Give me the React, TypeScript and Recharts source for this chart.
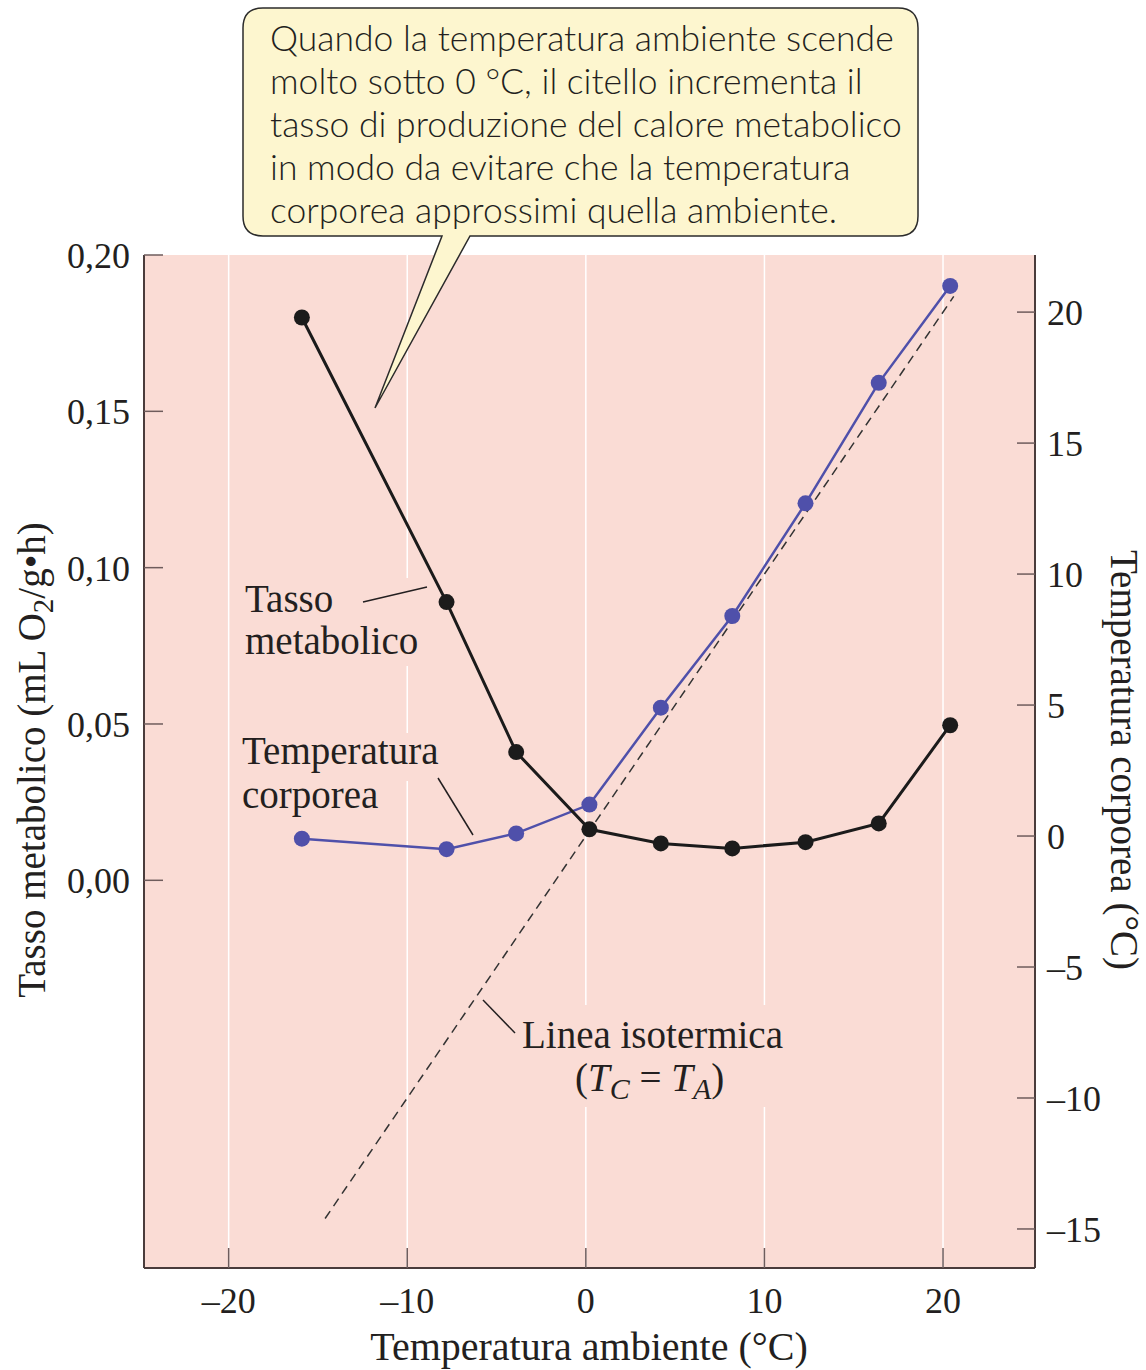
import React from 'react'
import { ComposedChart, Line, XAxis, YAxis, CartesianGrid } from 'recharts'

// ambient temperature (°C) of the measured points
const ambientTemps = [-15.9, -7.8, -3.9, 0.2, 4.2, 8.2, 12.3, 16.4, 20.4]
// metabolic rate (mL O2/g·h)
const metabolicRate = [0.18, 0.089, 0.041, 0.0163, 0.0118, 0.0102, 0.0122, 0.0182, 0.0496]
// body temperature (°C)
const bodyTemp = [-0.1, -0.5, 0.1, 1.2, 4.9, 8.4, 12.7, 17.3, 21.0]
// isotherm TC = TA, drawn between these ambient temperatures
const isothermEnds = [-14.6, 20.6]

const xTicks = [-20, -10, 0, 10, 20]
const rateTicks = [0, 0.05, 0.1, 0.15, 0.2]
const tempTicks = [-15, -10, -5, 0, 5, 10, 15, 20]

const calloutLines = [
  'Quando la temperatura ambiente scende',
  'molto sotto 0 °C, il citello incrementa il',
  'tasso di produzione del calore metabolico',
  'in modo da evitare che la temperatura',
  'corporea approssimi quella ambiente.',
]

const rateData = ambientTemps.map((x, i) => ({ x, rate: metabolicRate[i] }))
const bodyData = ambientTemps.map((x, i) => ({ x, temp: bodyTemp[i] }))
const isothermData = isothermEnds.map((t) => ({ x: t, tc: t }))

const SERIF = '"Liberation Serif", "Times New Roman", serif'
const SANS = 'Lato, "Open Sans", sans-serif'
const AXIS = '#4a3c3c'
const TICK = '#6e5c5c'
const PINK = '#fadcd5'
const BLUE = '#4f50aa'
const BLACK = '#1b1b1b'
const TXT = '#231f20'

const minus = (v: number) => (v < 0 ? `\u2013${Math.abs(v)}` : `${v}`)
const fmtRate = (v: number) => v.toFixed(2).replace('.', ',')

function LeftTick({ x, y, payload }: any) {
  return (
    <g>
      <line x1={x + 14} x2={x + 33} y1={y} y2={y} stroke={TICK} strokeWidth={1.5} />
      <text x={x} y={y} dy={13} textAnchor="end" fontFamily={SERIF} fontSize={36} fill={TXT}>
        {fmtRate(payload.value)}
      </text>
    </g>
  )
}

function RightTick({ x, y, payload }: any) {
  return (
    <g>
      <line x1={x - 30} x2={x - 12} y1={y} y2={y} stroke={TICK} strokeWidth={1.5} />
      <text x={x} y={y} dy={13} textAnchor="start" fontFamily={SERIF} fontSize={36} fill={TXT}>
        {minus(payload.value)}
      </text>
    </g>
  )
}

function BottomTick({ x, y, payload }: any) {
  return (
    <g>
      <line x1={x} x2={x} y1={y - 20} y2={y} stroke={TICK} strokeWidth={1.5} />
      <text x={x} y={y + 45} textAnchor="middle" fontFamily={SERIF} fontSize={36} fill={TXT}>
        {minus(payload.value)}
      </text>
    </g>
  )
}

function Overlay() {
  return (
    <svg
      width={1146}
      height={1370}
      style={{ position: 'absolute', left: 0, top: 0, pointerEvents: 'none' }}
    >
      {/* callout */}
      <path
        d="M 263 8 H 898 Q 918 8 918 28 V 216 Q 918 236 898 236 H 470 L 375 408 L 442 236 H 263 Q 243 236 243 216 V 28 Q 243 8 263 8 Z"
        fill="#fdf6cf"
        stroke="#2b2b2b"
        strokeWidth={1.5}
      />
      {calloutLines.map((line, i) => (
        <text
          key={i}
          x={270}
          y={51 + i * 43}
          fontFamily={SANS}
          fontWeight={300}
          fontSize={35.5}
          fill={TXT}
        >
          {line}
        </text>
      ))}

      {/* series labels */}
      <rect x={240} y={578} width={186} height={88} fill={PINK} />
      <text fontFamily={SERIF} fontSize={39} fill={TXT}>
        <tspan x={245} y={612}>Tasso</tspan>
        <tspan x={245} y={654}>metabolico</tspan>
      </text>
      <line x1={363} y1={602} x2={427} y2={587} stroke={TXT} strokeWidth={1.5} />

      <rect x={238} y={733} width={216} height={48} fill={PINK} />
      <text fontFamily={SERIF} fontSize={39} fill={TXT}>
        <tspan x={242} y={764}>Temperatura</tspan>
        <tspan x={242} y={808}>corporea</tspan>
      </text>
      <line x1={438} y1={778} x2={473} y2={835} stroke={TXT} strokeWidth={1.5} />

      <rect x={517} y={1005} width={278} height={102} fill={PINK} />
      <text x={522} y={1048} fontFamily={SERIF} fontSize={39} fill={TXT}>
        Linea isotermica
      </text>
      <text x={575} y={1091} fontFamily={SERIF} fontSize={39} fill={TXT}>
        (<tspan fontStyle="italic">T</tspan>
        <tspan fontStyle="italic" fontSize={30} dy={8}>C</tspan>
        <tspan dy={-8}> = </tspan>
        <tspan fontStyle="italic">T</tspan>
        <tspan fontStyle="italic" fontSize={30} dy={8}>A</tspan>
        <tspan dy={-8}>)</tspan>
      </text>
      <line x1={483} y1={1000} x2={515} y2={1033} stroke={TXT} strokeWidth={1.5} />

      {/* axis titles */}
      <text x={589} y={1360} textAnchor="middle" fontFamily={SERIF} fontSize={40} fill={TXT}>
        Temperatura ambiente (°C)
      </text>
      <text
        transform="translate(45 760) rotate(-90)"
        textAnchor="middle"
        fontFamily={SERIF}
        fontSize={39}
        fill={TXT}
      >
        Tasso metabolico (mL O<tspan fontSize={29} dy={8}>2</tspan>
        <tspan dy={-8}>/g•h)</tspan>
      </text>
      <text
        transform="translate(1111 760) rotate(90)"
        textAnchor="middle"
        fontFamily={SERIF}
        fontSize={39}
        fill={TXT}
      >
        Temperatura corporea (°C)
      </text>
    </svg>
  )
}

export default function App() {
  return (
    <div style={{ position: 'absolute', left: 0, top: 0, width: 1146, height: 1370, background: '#fff' }}>
      <ComposedChart
        width={1146}
        height={1370}
        margin={{ top: 255, right: 51, bottom: 42, left: 84 }}
        style={{ position: 'absolute', left: 0, top: 0 }}
      >
        <CartesianGrid horizontal={false} fill={PINK} stroke="#ffffff" strokeWidth={1.5} />
        <XAxis
          dataKey="x"
          type="number"
          domain={[-24.74, 25.15]}
          ticks={xTicks}
          height={60}
          tickSize={0}
          tickMargin={0}
          tickLine={false}
          axisLine={{ stroke: AXIS, strokeWidth: 2 }}
          tick={<BottomTick />}
        />
        <YAxis
          yAxisId="left"
          type="number"
          domain={[-0.124, 0.2]}
          ticks={rateTicks}
          width={60}
          tickSize={0}
          tickMargin={14}
          tickLine={false}
          axisLine={{ stroke: AXIS, strokeWidth: 2 }}
          tick={<LeftTick />}
        />
        <YAxis
          yAxisId="right"
          orientation="right"
          type="number"
          domain={[-16.49, 22.18]}
          ticks={tempTicks}
          width={60}
          tickSize={0}
          tickMargin={12}
          tickLine={false}
          axisLine={{ stroke: AXIS, strokeWidth: 2 }}
          tick={<RightTick />}
        />
        <Line
          yAxisId="right"
          data={isothermData}
          dataKey="tc"
          stroke="#333333"
          strokeWidth={1.5}
          strokeDasharray="9 6"
          dot={false}
          activeDot={false}
          isAnimationActive={false}
        />
        <Line
          yAxisId="right"
          data={bodyData}
          dataKey="temp"
          stroke={BLUE}
          strokeWidth={2.5}
          dot={{ r: 8, fill: BLUE, stroke: BLUE, strokeWidth: 0 }}
          activeDot={false}
          isAnimationActive={false}
        />
        <Line
          yAxisId="left"
          data={rateData}
          dataKey="rate"
          stroke={BLACK}
          strokeWidth={3}
          dot={{ r: 8, fill: BLACK, stroke: BLACK, strokeWidth: 0 }}
          activeDot={false}
          isAnimationActive={false}
        />
      </ComposedChart>
      <Overlay />
    </div>
  )
}
